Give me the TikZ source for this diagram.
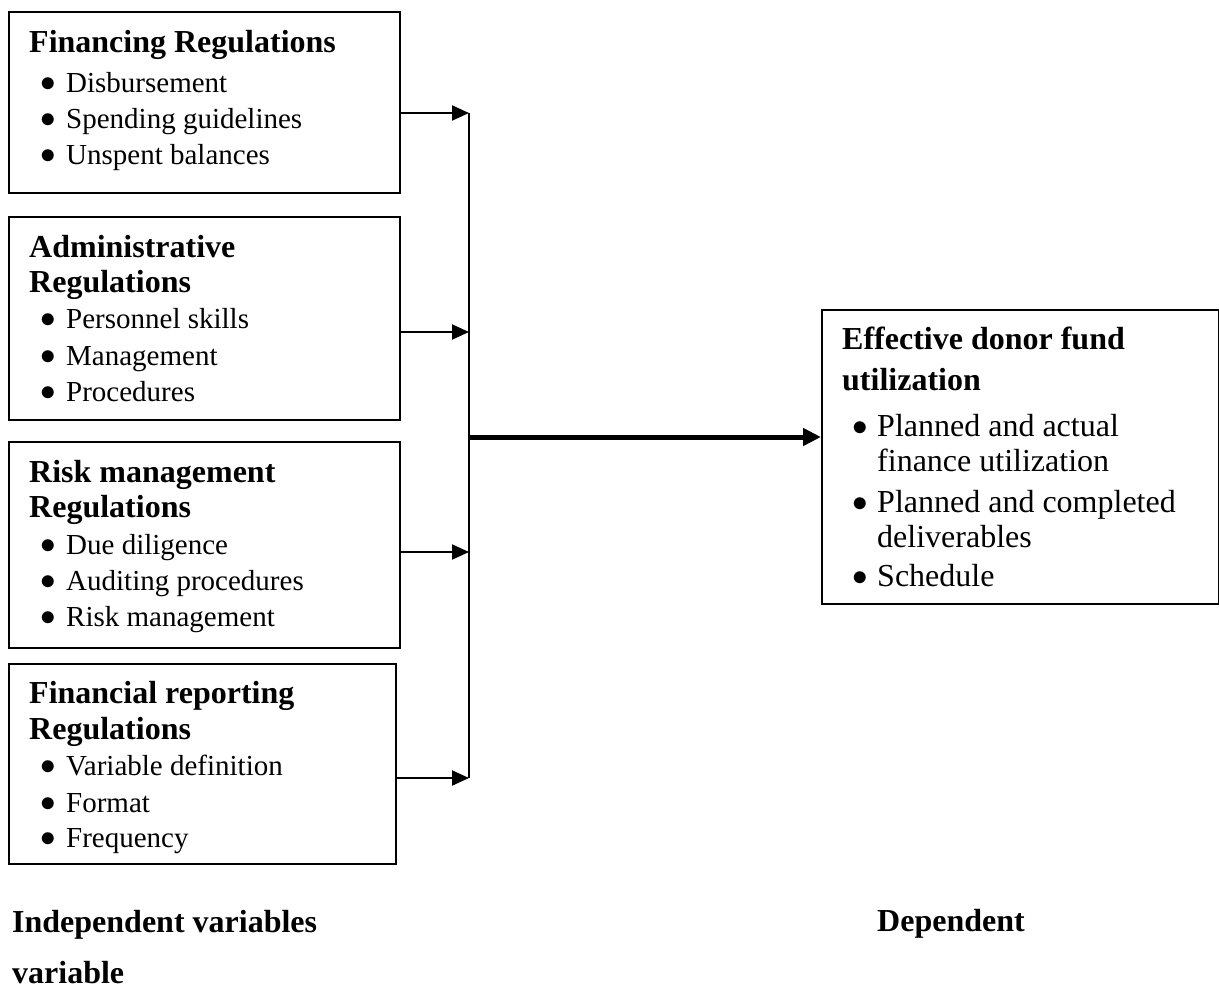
\documentclass[tikz,border=0pt]{standalone}
\usepackage{fontspec}
\usepackage{graphicx}
\setmainfont{Liberation Serif}
\usetikzlibrary{arrows.meta}
\tikzset{
  box/.style={draw, line width=2pt, rectangle, anchor=north west, inner sep=0pt},
  head/.style={anchor=base west, inner sep=0pt, font=\fontsize{32}{38}\selectfont\bfseries},
  item/.style={anchor=base west, inner sep=0pt, font=\fontsize{29}{35}\selectfont},
  itemr/.style={anchor=base west, inner sep=0pt, font=\fontsize{32}{38}\selectfont},
  feed/.style={line width=2pt, -{Triangle[length=17pt,width=15pt]}},
  main/.style={line width=5pt, -{Triangle[length=18pt,width=17pt]}},
  joint/.style={line width=2pt},
}
\newcommand{\blt}{\raisebox{1pt}{\scalebox{1.25}{$\bullet$}}}
\begin{document}
\begin{tikzpicture}[x=1pt,y=-1pt]
\useasboundingbox (0,0) rectangle (1219,988);
% boxes
\node[box, minimum width=391pt, minimum height=181pt] (b1) at (8,11) {};
\node[box, minimum width=391pt, minimum height=203pt] (b2) at (8,216) {};
\node[box, minimum width=391pt, minimum height=206pt] (b3) at (8,441) {};
\node[box, minimum width=387pt, minimum height=200pt] (b4) at (8,663) {};
\node[box, minimum width=397pt, minimum height=294pt] (out) at (821,309) {};
% box 1
\node[head] (t1) at (29,52) {Financing Regulations};
\node[item] (p1a) at (40,92) {\blt};  \node[item] (i1a) at (66,92) {Disbursement};
\node[item] (p1b) at (40,128) {\blt}; \node[item] (i1b) at (66,128) {Spending guidelines};
\node[item] (p1c) at (40,164) {\blt}; \node[item] (i1c) at (66,164) {Unspent balances};
% box 2
\node[head] (t2a) at (29,257) {Administrative};
\node[head] (t2b) at (29,292) {Regulations};
\node[item] (p2a) at (40,328) {\blt}; \node[item] (i2a) at (66,328) {Personnel skills};
\node[item] (p2b) at (40,365) {\blt}; \node[item] (i2b) at (66,365) {Management};
\node[item] (p2c) at (40,401) {\blt}; \node[item] (i2c) at (66,401) {Procedures};
% box 3
\node[head] (t3a) at (29,482) {Risk management};
\node[head] (t3b) at (29,517) {Regulations};
\node[item] (p3a) at (40,554) {\blt}; \node[item] (i3a) at (66,554) {Due diligence};
\node[item] (p3b) at (40,590) {\blt}; \node[item] (i3b) at (66,590) {Auditing procedures};
\node[item] (p3c) at (40,626) {\blt}; \node[item] (i3c) at (66,626) {Risk management};
% box 4
\node[head] (t4a) at (29,703) {Financial reporting};
\node[head] (t4b) at (29,739) {Regulations};
\node[item] (p4a) at (40,775) {\blt}; \node[item] (i4a) at (66,775) {Variable definition};
\node[item] (p4b) at (40,812) {\blt}; \node[item] (i4b) at (66,812) {Format};
\node[item] (p4c) at (40,847) {\blt}; \node[item] (i4c) at (66,847) {Frequency};
% output box
\node[head] (t5a) at (842,349) {Effective donor fund};
\node[head] (t5b) at (842,390) {utilization};
\node[itemr] (p5a) at (852,436) {\blt}; \node[itemr] (i5a) at (877,436) {Planned and actual};
\node[itemr] (i5a2) at (877,471) {finance utilization};
\node[itemr] (p5b) at (852,512) {\blt}; \node[itemr] (i5b) at (877,512) {Planned and completed};
\node[itemr] (i5b2) at (877,547) {deliverables};
\node[itemr] (p5c) at (852,586) {\blt}; \node[itemr] (i5c) at (877,586) {Schedule};
% bottom labels
\node[head] (lind) at (12,932) {Independent variables};
\node[head] (ldep) at (877,931) {Dependent};
\node[head] (lvar) at (12,983) {variable};
% connectors
\coordinate (j1) at (469,113);
\coordinate (j2) at (469,332);
\coordinate (j3) at (469,552);
\coordinate (j4) at (469,778);
\coordinate (jm) at (469,437);
\draw[joint] (j1) -- (j4);
\draw[feed] (b1.east |- j1) -- (j1);
\draw[feed] (b2.east |- j2) -- (j2);
\draw[feed] (b3.east |- j3) -- (j3);
\draw[feed] (b4.east |- j4) -- (j4);
\draw[main] (jm) -- (out.west |- jm);
\end{tikzpicture}
\end{document}
